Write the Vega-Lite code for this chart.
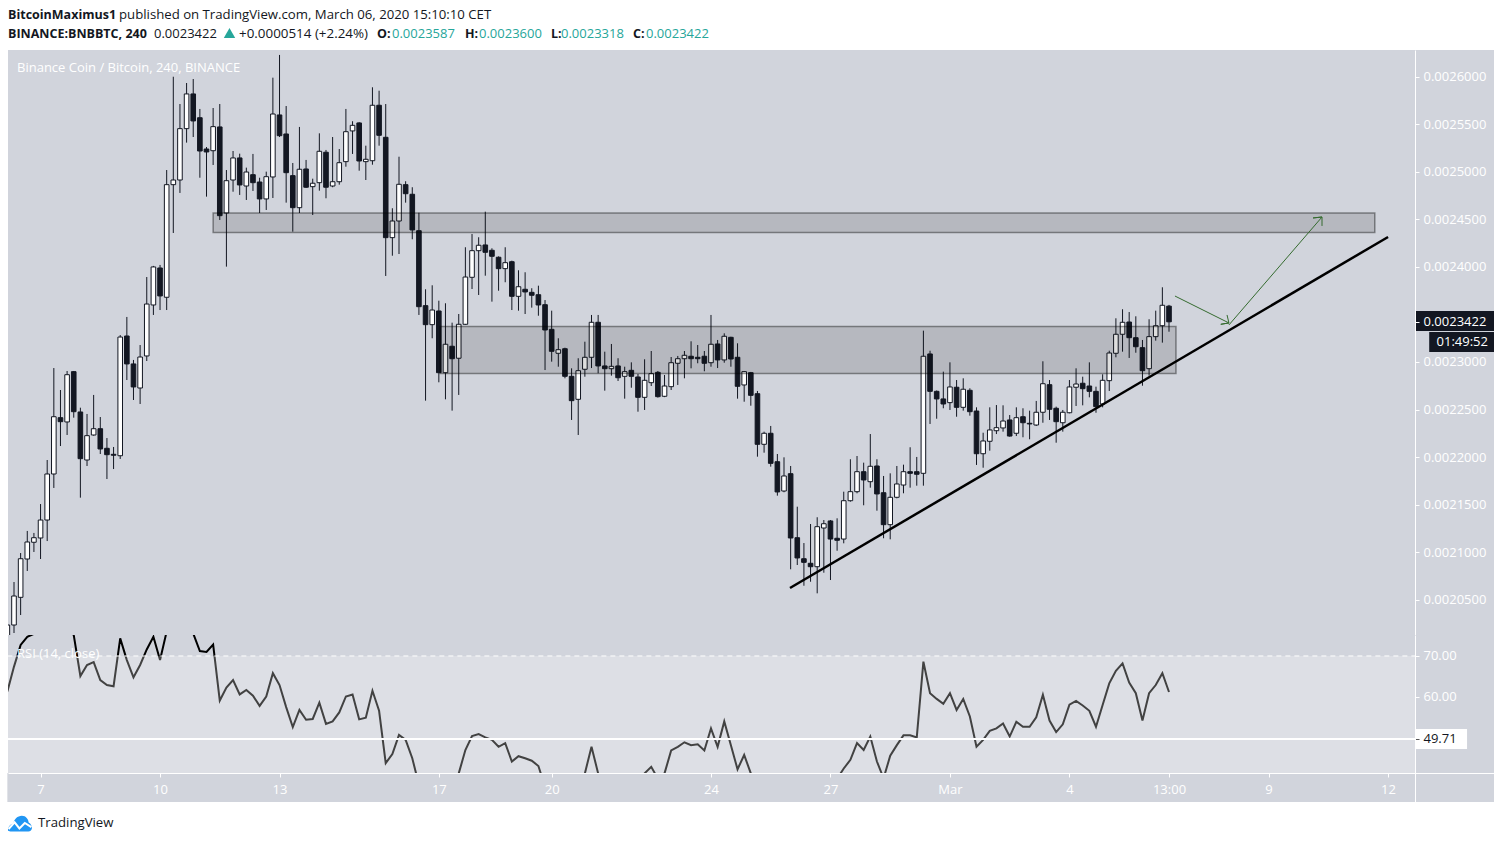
{
  "$schema": "https://vega.github.io/schema/vega-lite/v6.json",
  "background": "white",
  "padding": {"left": 4, "right": 8, "top": 0, "bottom": 0},
  "spacing": 0,
  "bounds": "flush",
  "config": {"view": {"stroke": null}, "font": "Open Sans", "axis": {"title": null, "labelFont": "Open Sans"}},
  "datasets": {
    "candles": [
      {"bar":-1,"open":0.0020076,"high":0.0020266,"low":0.0020024,"close":0.0020234,"rsi":61.3},
      {"bar":0,"open":0.0020234,"high":0.0020686,"low":0.0020150,"close":0.0020539,"rsi":67.4},
      {"bar":1,"open":0.0020525,"high":0.0020991,"low":0.0020339,"close":0.0020931,"rsi":72.7},
      {"bar":2,"open":0.0020928,"high":0.0021223,"low":0.0020802,"close":0.0021107,"rsi":74.7},
      {"bar":3,"open":0.0021104,"high":0.0021202,"low":0.0021002,"close":0.0021152,"rsi":75.4},
      {"bar":4,"open":0.0021149,"high":0.0021506,"low":0.0020928,"close":0.0021338,"rsi":77},
      {"bar":5,"open":0.0021338,"high":0.0021969,"low":0.0021117,"close":0.0021822,"rsi":79},
      {"bar":6,"open":0.0021822,"high":0.0022936,"low":0.0021675,"close":0.0022424,"rsi":81},
      {"bar":7,"open":0.0022414,"high":0.0022705,"low":0.0022116,"close":0.0022372,"rsi":79},
      {"bar":8,"open":0.0022369,"high":0.0022905,"low":0.0022232,"close":0.0022866,"rsi":77},
      {"bar":9,"open":0.0022898,"high":0.0022905,"low":0.0022414,"close":0.0022477,"rsi":75.1},
      {"bar":10,"open":0.0022474,"high":0.0022519,"low":0.0021573,"close":0.0021983,"rsi":65.1},
      {"bar":11,"open":0.0021969,"high":0.0022453,"low":0.0021906,"close":0.0022225,"rsi":67.8},
      {"bar":12,"open":0.0022232,"high":0.0022653,"low":0.0022225,"close":0.0022298,"rsi":68.5},
      {"bar":13,"open":0.0022298,"high":0.0022421,"low":0.0022032,"close":0.0022085,"rsi":64.1},
      {"bar":14,"open":0.0022092,"high":0.0022200,"low":0.0021769,"close":0.0022025,"rsi":62.9},
      {"bar":15,"open":0.0022029,"high":0.0022106,"low":0.0021874,"close":0.0022019,"rsi":62.6},
      {"bar":16,"open":0.0022014,"high":0.0023283,"low":0.0021980,"close":0.0023262,"rsi":74.3},
      {"bar":17,"open":0.0023273,"high":0.0023473,"low":0.0022810,"close":0.0022979,"rsi":69},
      {"bar":18,"open":0.0022979,"high":0.0023021,"low":0.0022600,"close":0.0022737,"rsi":64.8},
      {"bar":19,"open":0.0022726,"high":0.0023178,"low":0.0022558,"close":0.0023052,"rsi":67.8},
      {"bar":20,"open":0.0023063,"high":0.0023893,"low":0.0023010,"close":0.0023609,"rsi":71.6},
      {"bar":21,"open":0.0023599,"high":0.0024010,"low":0.0023494,"close":0.0023999,"rsi":74.7},
      {"bar":22,"open":0.0023988,"high":0.0024020,"low":0.0023546,"close":0.0023694,"rsi":69},
      {"bar":23,"open":0.0023680,"high":0.0025018,"low":0.0023546,"close":0.0024864,"rsi":76},
      {"bar":24,"open":0.0024864,"high":0.0025999,"low":0.0024356,"close":0.0024913,"rsi":77},
      {"bar":25,"open":0.0024913,"high":0.0025712,"low":0.0024777,"close":0.0025453,"rsi":79},
      {"bar":26,"open":0.0025453,"high":0.0025933,"low":0.0025306,"close":0.0025818,"rsi":78},
      {"bar":27,"open":0.0025818,"high":0.0025975,"low":0.0025365,"close":0.0025534,"rsi":75.5},
      {"bar":28,"open":0.0025568,"high":0.0025660,"low":0.0024937,"close":0.0025218,"rsi":71.2},
      {"bar":29,"open":0.0025239,"high":0.0025260,"low":0.0024738,"close":0.0025208,"rsi":71},
      {"bar":30,"open":0.0025221,"high":0.0025670,"low":0.0025071,"close":0.0025474,"rsi":72.8},
      {"bar":31,"open":0.0025471,"high":0.0025712,"low":0.0024493,"close":0.0024538,"rsi":59.1},
      {"bar":32,"open":0.0024566,"high":0.0025018,"low":0.0024002,"close":0.0024906,"rsi":62.3},
      {"bar":33,"open":0.0024913,"high":0.0025218,"low":0.0024790,"close":0.0025145,"rsi":64.1},
      {"bar":34,"open":0.0025145,"high":0.0025190,"low":0.0024756,"close":0.0024861,"rsi":60.6},
      {"bar":35,"open":0.0024850,"high":0.0025043,"low":0.0024703,"close":0.0024997,"rsi":61.7},
      {"bar":36,"open":0.0024969,"high":0.0025187,"low":0.0024798,"close":0.0024885,"rsi":60.3},
      {"bar":37,"open":0.0024892,"high":0.0024937,"low":0.0024566,"close":0.0024714,"rsi":57.8},
      {"bar":38,"open":0.0024714,"high":0.0025001,"low":0.0024598,"close":0.0024948,"rsi":60.1},
      {"bar":39,"open":0.0024945,"high":0.0025989,"low":0.0024724,"close":0.0025607,"rsi":65.8},
      {"bar":40,"open":0.0025597,"high":0.0026228,"low":0.0025365,"close":0.0025379,"rsi":62.9},
      {"bar":41,"open":0.0025397,"high":0.0025691,"low":0.0024675,"close":0.0024990,"rsi":57.5},
      {"bar":42,"open":0.0024959,"high":0.0025092,"low":0.0024370,"close":0.0024622,"rsi":52.6},
      {"bar":43,"open":0.0024622,"high":0.0025471,"low":0.0024566,"close":0.0025026,"rsi":56.8},
      {"bar":44,"open":0.0025029,"high":0.0025124,"low":0.0024830,"close":0.0024837,"rsi":54.4},
      {"bar":45,"open":0.0024843,"high":0.0024927,"low":0.0024545,"close":0.0024879,"rsi":54.6},
      {"bar":46,"open":0.0024885,"high":0.0025404,"low":0.0024801,"close":0.0025215,"rsi":58.6},
      {"bar":47,"open":0.0025205,"high":0.0025229,"low":0.0024721,"close":0.0024837,"rsi":53.4},
      {"bar":48,"open":0.0024850,"high":0.0025365,"low":0.0024837,"close":0.0024895,"rsi":54},
      {"bar":49,"open":0.0024895,"high":0.0025239,"low":0.0024864,"close":0.0025095,"rsi":56.2},
      {"bar":50,"open":0.0025106,"high":0.0025660,"low":0.0025053,"close":0.0025421,"rsi":60.1},
      {"bar":51,"open":0.0025429,"high":0.0025531,"low":0.0025187,"close":0.0025488,"rsi":60.6},
      {"bar":52,"open":0.0025513,"high":0.0025520,"low":0.0025011,"close":0.0025113,"rsi":54.5},
      {"bar":53,"open":0.0025106,"high":0.0025274,"low":0.0024913,"close":0.0025131,"rsi":54.9},
      {"bar":54,"open":0.0025116,"high":0.0025888,"low":0.0025074,"close":0.0025699,"rsi":61.5},
      {"bar":55,"open":0.0025699,"high":0.0025852,"low":0.0025274,"close":0.0025383,"rsi":56.6},
      {"bar":56,"open":0.0025362,"high":0.0025712,"low":0.0023904,"close":0.0024307,"rsi":43.8},
      {"bar":57,"open":0.0024307,"high":0.0024616,"low":0.0024117,"close":0.0024482,"rsi":46},
      {"bar":58,"open":0.0024482,"high":0.0025158,"low":0.0024135,"close":0.0024868,"rsi":50.7},
      {"bar":59,"open":0.0024864,"high":0.0024900,"low":0.0024675,"close":0.0024769,"rsi":49.5},
      {"bar":60,"open":0.0024763,"high":0.0024837,"low":0.0024290,"close":0.0024388,"rsi":45},
      {"bar":61,"open":0.0024380,"high":0.0024569,"low":0.0023494,"close":0.0023581,"rsi":38.5},
      {"bar":62,"open":0.0023592,"high":0.0023764,"low":0.0022593,"close":0.0023392,"rsi":37},
      {"bar":63,"open":0.0023392,"high":0.0023806,"low":0.0023249,"close":0.0023546,"rsi":36.5},
      {"bar":64,"open":0.0023536,"high":0.0023644,"low":0.0022786,"close":0.0022887,"rsi":35},
      {"bar":65,"open":0.0022887,"high":0.0023617,"low":0.0022607,"close":0.0023186,"rsi":37},
      {"bar":66,"open":0.0023165,"high":0.0023413,"low":0.0022488,"close":0.0023034,"rsi":37.5},
      {"bar":67,"open":0.0023039,"high":0.0023504,"low":0.0022653,"close":0.0023396,"rsi":41.3},
      {"bar":68,"open":0.0023396,"high":0.0024206,"low":0.0023390,"close":0.0023893,"rsi":47},
      {"bar":69,"open":0.0023890,"high":0.0024345,"low":0.0023767,"close":0.0024170,"rsi":50.4},
      {"bar":70,"open":0.0024170,"high":0.0024311,"low":0.0023704,"close":0.0024227,"rsi":50.9},
      {"bar":71,"open":0.0024230,"high":0.0024580,"low":0.0023907,"close":0.0024153,"rsi":50.1},
      {"bar":72,"open":0.0024174,"high":0.0024195,"low":0.0023634,"close":0.0024111,"rsi":49.5},
      {"bar":73,"open":0.0024101,"high":0.0024110,"low":0.0023749,"close":0.0023981,"rsi":47.8},
      {"bar":74,"open":0.0023981,"high":0.0024206,"low":0.0023838,"close":0.0024044,"rsi":48.7},
      {"bar":75,"open":0.0024054,"high":0.0024065,"low":0.0023546,"close":0.0023690,"rsi":44.2},
      {"bar":76,"open":0.0023690,"high":0.0023964,"low":0.0023539,"close":0.0023791,"rsi":45.5},
      {"bar":77,"open":0.0023764,"high":0.0023943,"low":0.0023504,"close":0.0023736,"rsi":45},
      {"bar":78,"open":0.0023732,"high":0.0023775,"low":0.0023571,"close":0.0023701,"rsi":44.4},
      {"bar":79,"open":0.0023707,"high":0.0023802,"low":0.0023486,"close":0.0023599,"rsi":43.1},
      {"bar":80,"open":0.0023602,"high":0.0023651,"low":0.0022915,"close":0.0023336,"rsi":38},
      {"bar":81,"open":0.0023343,"high":0.0023539,"low":0.0023003,"close":0.0023112,"rsi":37},
      {"bar":82,"open":0.0023091,"high":0.0023249,"low":0.0022950,"close":0.0023129,"rsi":38},
      {"bar":83,"open":0.0023139,"high":0.0023150,"low":0.0022828,"close":0.0022849,"rsi":37},
      {"bar":84,"open":0.0022849,"high":0.0022933,"low":0.0022390,"close":0.0022593,"rsi":35},
      {"bar":85,"open":0.0022607,"high":0.0023039,"low":0.0022232,"close":0.0022908,"rsi":36},
      {"bar":86,"open":0.0022923,"high":0.0023213,"low":0.0022845,"close":0.0023049,"rsi":41.3},
      {"bar":87,"open":0.0023049,"high":0.0023494,"low":0.0022936,"close":0.0023417,"rsi":47.8},
      {"bar":88,"open":0.0023417,"high":0.0023494,"low":0.0022881,"close":0.0022958,"rsi":41.3},
      {"bar":89,"open":0.0022958,"high":0.0023108,"low":0.0022698,"close":0.0022929,"rsi":39},
      {"bar":90,"open":0.0022929,"high":0.0023189,"low":0.0022856,"close":0.0022954,"rsi":41},
      {"bar":91,"open":0.0022958,"high":0.0023039,"low":0.0022800,"close":0.0022834,"rsi":39},
      {"bar":92,"open":0.0022849,"high":0.0022950,"low":0.0022614,"close":0.0022898,"rsi":39.5},
      {"bar":93,"open":0.0022912,"high":0.0022996,"low":0.0022729,"close":0.0022849,"rsi":38},
      {"bar":94,"open":0.0022842,"high":0.0022873,"low":0.0022477,"close":0.0022628,"rsi":38},
      {"bar":95,"open":0.0022628,"high":0.0023028,"low":0.0022495,"close":0.0022807,"rsi":41.3},
      {"bar":96,"open":0.0022782,"high":0.0023115,"low":0.0022747,"close":0.0022877,"rsi":42.9},
      {"bar":97,"open":0.0022891,"high":0.0022905,"low":0.0022625,"close":0.0022635,"rsi":40},
      {"bar":98,"open":0.0022639,"high":0.0022863,"low":0.0022630,"close":0.0022747,"rsi":41.3},
      {"bar":99,"open":0.0022740,"high":0.0023052,"low":0.0022705,"close":0.0022992,"rsi":46.9},
      {"bar":100,"open":0.0022986,"high":0.0023063,"low":0.0022758,"close":0.0023034,"rsi":47.8},
      {"bar":101,"open":0.0023034,"high":0.0023115,"low":0.0022828,"close":0.0023070,"rsi":48.9},
      {"bar":102,"open":0.0023060,"high":0.0023217,"low":0.0022933,"close":0.0023034,"rsi":48.2},
      {"bar":103,"open":0.0023049,"high":0.0023178,"low":0.0022986,"close":0.0023034,"rsi":48.4},
      {"bar":104,"open":0.0023060,"high":0.0023115,"low":0.0022902,"close":0.0022986,"rsi":46.9},
      {"bar":105,"open":0.0022992,"high":0.0023494,"low":0.0022950,"close":0.0023186,"rsi":52.3},
      {"bar":106,"open":0.0023189,"high":0.0023231,"low":0.0022936,"close":0.0023021,"rsi":47.8},
      {"bar":107,"open":0.0023021,"high":0.0023301,"low":0.0022992,"close":0.0023270,"rsi":54},
      {"bar":108,"open":0.0023259,"high":0.0023265,"low":0.0022950,"close":0.0023031,"rsi":48.2},
      {"bar":109,"open":0.0023049,"high":0.0023196,"low":0.0022614,"close":0.0022744,"rsi":42.3},
      {"bar":110,"open":0.0022758,"high":0.0022905,"low":0.0022582,"close":0.0022898,"rsi":45.8},
      {"bar":111,"open":0.0022887,"high":0.0022895,"low":0.0022540,"close":0.0022649,"rsi":41.3},
      {"bar":112,"open":0.0022666,"high":0.0022695,"low":0.0022004,"close":0.0022134,"rsi":35},
      {"bar":113,"open":0.0022134,"high":0.0022267,"low":0.0022046,"close":0.0022250,"rsi":36.5},
      {"bar":114,"open":0.0022250,"high":0.0022327,"low":0.0021899,"close":0.0021934,"rsi":35.5},
      {"bar":115,"open":0.0021951,"high":0.0022032,"low":0.0021594,"close":0.0021633,"rsi":34},
      {"bar":116,"open":0.0021643,"high":0.0021997,"low":0.0021630,"close":0.0021801,"rsi":35},
      {"bar":117,"open":0.0021825,"high":0.0021906,"low":0.0020820,"close":0.0021149,"rsi":30},
      {"bar":118,"open":0.0021152,"high":0.0021478,"low":0.0020865,"close":0.0020939,"rsi":29},
      {"bar":119,"open":0.0020931,"high":0.0021096,"low":0.0020647,"close":0.0020893,"rsi":29},
      {"bar":120,"open":0.0020883,"high":0.0021296,"low":0.0020689,"close":0.0020847,"rsi":29},
      {"bar":121,"open":0.0020847,"high":0.0021367,"low":0.0020567,"close":0.0021268,"rsi":33},
      {"bar":122,"open":0.0021254,"high":0.0021338,"low":0.0020784,"close":0.0021299,"rsi":33},
      {"bar":123,"open":0.0021328,"high":0.0021338,"low":0.0020707,"close":0.0021138,"rsi":32},
      {"bar":124,"open":0.0021146,"high":0.0021356,"low":0.0021015,"close":0.0021125,"rsi":40},
      {"bar":125,"open":0.0021138,"high":0.0021636,"low":0.0021093,"close":0.0021541,"rsi":42.5},
      {"bar":126,"open":0.0021541,"high":0.0021977,"low":0.0021531,"close":0.0021636,"rsi":44.6},
      {"bar":127,"open":0.0021636,"high":0.0022011,"low":0.0021619,"close":0.0021846,"rsi":48.7},
      {"bar":128,"open":0.0021846,"high":0.0021941,"low":0.0021493,"close":0.0021759,"rsi":47},
      {"bar":129,"open":0.0021741,"high":0.0022242,"low":0.0021678,"close":0.0021903,"rsi":50.3},
      {"bar":130,"open":0.0021906,"high":0.0021977,"low":0.0021436,"close":0.0021612,"rsi":44.2},
      {"bar":131,"open":0.0021625,"high":0.0021801,"low":0.0021146,"close":0.0021289,"rsi":40.1},
      {"bar":132,"open":0.0021289,"high":0.0021829,"low":0.0021135,"close":0.0021577,"rsi":45.6},
      {"bar":133,"open":0.0021577,"high":0.0021906,"low":0.0021566,"close":0.0021717,"rsi":48.2},
      {"bar":134,"open":0.0021706,"high":0.0021920,"low":0.0021619,"close":0.0021846,"rsi":50.6},
      {"bar":135,"open":0.0021846,"high":0.0022103,"low":0.0021678,"close":0.0021829,"rsi":50.6},
      {"bar":136,"open":0.0021846,"high":0.0022001,"low":0.0021699,"close":0.0021819,"rsi":50.1},
      {"bar":137,"open":0.0021829,"high":0.0023329,"low":0.0021699,"close":0.0023060,"rsi":68.6},
      {"bar":138,"open":0.0023084,"high":0.0023118,"low":0.0022348,"close":0.0022691,"rsi":60.9},
      {"bar":139,"open":0.0022691,"high":0.0022700,"low":0.0022403,"close":0.0022611,"rsi":59.5},
      {"bar":140,"open":0.0022611,"high":0.0022898,"low":0.0022513,"close":0.0022558,"rsi":58.3},
      {"bar":141,"open":0.0022572,"high":0.0022996,"low":0.0022495,"close":0.0022737,"rsi":60.9},
      {"bar":142,"open":0.0022734,"high":0.0022810,"low":0.0022424,"close":0.0022523,"rsi":56.8},
      {"bar":143,"open":0.0022523,"high":0.0022828,"low":0.0022488,"close":0.0022713,"rsi":59.5},
      {"bar":144,"open":0.0022702,"high":0.0022723,"low":0.0022435,"close":0.0022477,"rsi":55.2},
      {"bar":145,"open":0.0022484,"high":0.0022523,"low":0.0021917,"close":0.0022035,"rsi":47.8},
      {"bar":146,"open":0.0022035,"high":0.0022256,"low":0.0021888,"close":0.0022169,"rsi":49.5},
      {"bar":147,"open":0.0022166,"high":0.0022523,"low":0.0022067,"close":0.0022285,"rsi":51.7},
      {"bar":148,"open":0.0022277,"high":0.0022547,"low":0.0022242,"close":0.0022309,"rsi":52.3},
      {"bar":149,"open":0.0022306,"high":0.0022544,"low":0.0022267,"close":0.0022379,"rsi":53.5},
      {"bar":150,"open":0.0022390,"high":0.0022442,"low":0.0022214,"close":0.0022221,"rsi":50.3},
      {"bar":151,"open":0.0022250,"high":0.0022523,"low":0.0022221,"close":0.0022414,"rsi":53.9},
      {"bar":152,"open":0.0022424,"high":0.0022513,"low":0.0022208,"close":0.0022361,"rsi":52.7},
      {"bar":153,"open":0.0022355,"high":0.0022488,"low":0.0022187,"close":0.0022348,"rsi":52.7},
      {"bar":154,"open":0.0022337,"high":0.0022590,"low":0.0022327,"close":0.0022471,"rsi":55},
      {"bar":155,"open":0.0022471,"high":0.0023007,"low":0.0022361,"close":0.0022771,"rsi":60.5},
      {"bar":156,"open":0.0022761,"high":0.0022810,"low":0.0022390,"close":0.0022502,"rsi":54.2},
      {"bar":157,"open":0.0022513,"high":0.0022530,"low":0.0022151,"close":0.0022372,"rsi":51.4},
      {"bar":158,"open":0.0022361,"high":0.0022495,"low":0.0022267,"close":0.0022471,"rsi":53.3},
      {"bar":159,"open":0.0022466,"high":0.0022810,"low":0.0022460,"close":0.0022737,"rsi":58.1},
      {"bar":160,"open":0.0022734,"high":0.0022933,"low":0.0022537,"close":0.0022768,"rsi":59},
      {"bar":161,"open":0.0022776,"high":0.0022845,"low":0.0022544,"close":0.0022719,"rsi":57.9},
      {"bar":162,"open":0.0022747,"high":0.0022996,"low":0.0022628,"close":0.0022691,"rsi":56.6},
      {"bar":163,"open":0.0022691,"high":0.0022740,"low":0.0022466,"close":0.0022530,"rsi":52.7},
      {"bar":164,"open":0.0022558,"high":0.0022870,"low":0.0022523,"close":0.0022807,"rsi":58},
      {"bar":165,"open":0.0022803,"high":0.0023118,"low":0.0022695,"close":0.0023094,"rsi":63.3},
      {"bar":166,"open":0.0023091,"high":0.0023459,"low":0.0023049,"close":0.0023291,"rsi":66.4},
      {"bar":167,"open":0.0023291,"high":0.0023554,"low":0.0023108,"close":0.0023417,"rsi":68.2},
      {"bar":168,"open":0.0023420,"high":0.0023525,"low":0.0023042,"close":0.0023255,"rsi":63.5},
      {"bar":169,"open":0.0023255,"high":0.0023480,"low":0.0023097,"close":0.0023160,"rsi":60.9},
      {"bar":170,"open":0.0023150,"high":0.0023231,"low":0.0022750,"close":0.0022908,"rsi":54.2},
      {"bar":171,"open":0.0022929,"high":0.0023449,"low":0.0022856,"close":0.0023266,"rsi":60.9},
      {"bar":172,"open":0.0023266,"high":0.0023539,"low":0.0023224,"close":0.0023381,"rsi":62.9},
      {"bar":173,"open":0.0023381,"high":0.0023785,"low":0.0023203,"close":0.0023596,"rsi":65.8},
      {"bar":174,"open":0.0023587,"high":0.0023600,"low":0.0023318,"close":0.0023422,"rsi":61.2}
    ],
    "zones": [
      {"bar":30,"barEnd":205,"top":0.0024566,"bottom":0.0024361},
      {"bar":64.2,"barEnd":175.05,"top":0.0023373,"bottom":0.0022879}
    ],
    "trend": [
      {"bar":116.9,"price":0.0020623},
      {"bar":207,"price":0.0024314}
    ],
    "arrows": [
      {"arrow":"down","step":0,"bar":174.9,"price":0.0023693},
      {"arrow":"down","step":1,"bar":183.03,"price":0.0023410},
      {"arrow":"down","step":2,"bar":181.8,"price":0.0023396},
      {"arrow":"down","step":3,"bar":183.03,"price":0.0023410},
      {"arrow":"down","step":4,"bar":182.74,"price":0.0023494},
      {"arrow":"up","step":0,"bar":183.03,"price":0.0023389},
      {"arrow":"up","step":1,"bar":197.05,"price":0.0024524},
      {"arrow":"up","step":2,"bar":195.7,"price":0.0024514},
      {"arrow":"up","step":3,"bar":197.05,"price":0.0024524},
      {"arrow":"up","step":4,"bar":197.05,"price":0.0024430}
    ],
    "tags": [
      {"bar":211.06,"barEnd":222.96,"top":0.0023536,"bottom":0.0023325},
      {"bar":213.2,"barEnd":222.96,"top":0.0023315,"bottom":0.0023105}
    ],
    "countdown": [{"labelBar":214.3,"price":0.0023210,"label":"01:49:52"}],
    "rsiBand": [{"bar":-1,"barEnd":211.06,"top":70,"bottom":34.3}],
    "rsiStrip": [{"bar":-1,"barEnd":222.96,"top":41.4,"bottom":34.3}],
    "rsiLevels": [
      {"bar":-1,"barEnd":211.06,"level":70},
      {"bar":-1,"barEnd":211.06,"level":49.71}
    ],
    "rsiTag": [{"bar":211.06,"barEnd":218.9,"top":52.15,"bottom":47.27}]
  },
  "vconcat": [
    {
      "width": 1486,
      "height": 50,
      "data": {"values": [{}]},
      "layer": [
        {"mark": {"type": "text", "x": 0, "y": 15, "align": "left", "fontSize": 12.5, "fontWeight": "bold", "color": "#131722", "text": "BitcoinMaximus1"}},
        {"mark": {"type": "text", "x": 111, "y": 15, "align": "left", "fontSize": 13.2, "color": "#131722", "text": "published on TradingView.com, March 06, 2020 15:10:10 CET"}},
        {"mark": {"type": "text", "x": 0, "y": 34, "align": "left", "fontSize": 12.5, "fontWeight": "bold", "color": "#131722", "text": "BINANCE:BNBBTC, 240"}},
        {"mark": {"type": "text", "x": 146, "y": 34, "align": "left", "fontSize": 13, "color": "#131722", "text": "0.0023422"}},
        {"mark": {"type": "point", "x": 221.5, "y": 33, "shape": "triangle-up", "size": 130, "filled": true, "opacity": 1, "color": "#26a69a"}},
        {"mark": {"type": "text", "x": 231, "y": 34, "align": "left", "fontSize": 13.4, "color": "#131722", "text": "+0.0000514 (+2.24%)"}},
        {"mark": {"type": "text", "x": 369, "y": 34, "align": "left", "fontSize": 12.5, "fontWeight": "bold", "color": "#131722", "text": "O:"}},
        {"mark": {"type": "text", "x": 384, "y": 34, "align": "left", "fontSize": 13, "color": "#26a69a", "text": "0.0023587"}},
        {"mark": {"type": "text", "x": 457, "y": 34, "align": "left", "fontSize": 12.5, "fontWeight": "bold", "color": "#131722", "text": "H:"}},
        {"mark": {"type": "text", "x": 471, "y": 34, "align": "left", "fontSize": 13, "color": "#26a69a", "text": "0.0023600"}},
        {"mark": {"type": "text", "x": 543, "y": 34, "align": "left", "fontSize": 12.5, "fontWeight": "bold", "color": "#131722", "text": "L:"}},
        {"mark": {"type": "text", "x": 553, "y": 34, "align": "left", "fontSize": 13, "color": "#26a69a", "text": "0.0023318"}},
        {"mark": {"type": "text", "x": 625, "y": 34, "align": "left", "fontSize": 12.5, "fontWeight": "bold", "color": "#131722", "text": "C:"}},
        {"mark": {"type": "text", "x": 638, "y": 34, "align": "left", "fontSize": 13, "color": "#26a69a", "text": "0.0023422"}}
      ]
    },
    {
      "width": 1486,
      "height": 585,
      "view": {"fill": "#d1d4dc", "stroke": null},
      "layer": [
        {
          "data": {"values": [{}]},
          "mark": {"type": "text", "x": 9, "y": 18, "align": "left", "fontSize": 13, "color": "#ffffff", "text": "Binance Coin / Bitcoin, 240, BINANCE"}
        },
        {
          "data": {"name": "candles"},
          "mark": {"type": "rule", "color": "#131722", "strokeWidth": 1, "clip": true},
          "encoding": {
            "x": {
              "field": "bar",
              "type": "quantitative",
              "title": null,
              "scale": {"domain": [-0.904, 222.96], "nice": false, "zero": false, "padding": 0},
              "axis": {"orient": "bottom", "labels": false, "ticks": false, "grid": false, "domainColor": "#ffffff", "domainWidth": 1, "zindex": 1}
            },
            "y": {
              "field": "low",
              "type": "quantitative",
              "title": null,
              "scale": {"domain": [0.0020129, 0.002628], "nice": false, "zero": false},
              "axis": {
                "orient": "right",
                "offset": -79,
                "values": [0.0026, 0.00255, 0.0025, 0.00245, 0.0024, 0.0023422, 0.0023, 0.00225, 0.0022, 0.00215, 0.0021, 0.00205],
                "format": ".7f",
                "grid": false,
                "domainColor": "#ffffff",
                "tickColor": "#ffffff",
                "tickSize": 4,
                "labelColor": "#ffffff",
                "labelFontSize": 13,
                "labelPadding": 4,
                "labelOverlap": false,
                "zindex": 1
              }
            },
            "y2": {"field": "high"}
          }
        },
        {
          "data": {"name": "candles"},
          "mark": {"type": "bar", "size": 4.6, "stroke": "#131722", "strokeWidth": 1, "clip": true},
          "encoding": {
            "x": {"field": "bar", "type": "quantitative", "title": null},
            "y": {"field": "open", "type": "quantitative", "title": null},
            "y2": {"field": "close"},
            "fill": {"condition": {"test": "datum.close >= datum.open", "value": "#ffffff"}, "value": "#131722"}
          }
        },
        {
          "data": {"name": "zones"},
          "mark": {"type": "rect", "fill": "#000000", "fillOpacity": 0.13, "stroke": "#000000", "strokeOpacity": 0.4, "strokeWidth": 1.5},
          "encoding": {
            "x": {"field": "bar", "type": "quantitative", "title": null},
            "x2": {"field": "barEnd"},
            "y": {"field": "top", "type": "quantitative", "title": null},
            "y2": {"field": "bottom"}
          }
        },
        {
          "data": {"name": "trend"},
          "mark": {"type": "line", "color": "#000000", "strokeWidth": 2.5},
          "encoding": {
            "x": {"field": "bar", "type": "quantitative", "title": null},
            "y": {"field": "price", "type": "quantitative", "title": null}
          }
        },
        {
          "data": {"name": "arrows"},
          "mark": {"type": "line", "color": "#356b2f", "strokeWidth": 1},
          "encoding": {
            "x": {"field": "bar", "type": "quantitative", "title": null},
            "y": {"field": "price", "type": "quantitative", "title": null},
            "detail": {"field": "arrow"},
            "order": {"field": "step"}
          }
        },
        {
          "data": {"name": "tags"},
          "mark": {"type": "rect", "fill": "#131722"},
          "encoding": {
            "x": {"field": "bar", "type": "quantitative", "title": null},
            "x2": {"field": "barEnd"},
            "y": {"field": "top", "type": "quantitative", "title": null},
            "y2": {"field": "bottom"}
          }
        },
        {
          "data": {"name": "countdown"},
          "mark": {"type": "text", "align": "left", "fontSize": 13, "color": "#ffffff"},
          "encoding": {
            "x": {"field": "labelBar", "type": "quantitative", "title": null},
            "y": {"field": "price", "type": "quantitative", "title": null},
            "text": {"field": "label"}
          }
        }
      ]
    },
    {
      "width": 1486,
      "height": 167,
      "view": {"fill": "#d1d4dc", "stroke": null},
      "layer": [
        {
          "data": {"name": "candles"},
          "mark": {"type": "line", "color": "#000000", "strokeWidth": 2, "clip": true},
          "encoding": {
            "x": {
              "field": "bar",
              "type": "quantitative",
              "title": null,
              "scale": {"domain": [-0.904, 222.96], "nice": false, "zero": false},
              "axis": {
                "orient": "bottom",
                "offset": -29,
                "values": [4, 22, 40, 64, 81, 105, 123, 141, 159, 174, 189, 207],
                "labelExpr": "['7','10','13','17','20','24','27','Mar','4','13:00','9','12'][indexof([4,22,40,64,81,105,123,141,159,174,189,207],datum.value)]",
                "grid": false,
                "domainColor": "#ffffff",
                "tickColor": "#ffffff",
                "tickSize": 4,
                "labelColor": "#ffffff",
                "labelFontSize": 13,
                "labelPadding": 6,
                "labelOverlap": false,
                "zindex": 1
              }
            },
            "y": {
              "field": "rsi",
              "type": "quantitative",
              "title": null,
              "scale": {"domain": [34.3, 75.13], "nice": false, "zero": false},
              "axis": {
                "orient": "right",
                "offset": -79,
                "values": [70, 60, 49.71],
                "format": ".2f",
                "grid": false,
                "domainColor": "#ffffff",
                "tickColor": {"condition": {"test": "datum.value == 49.71", "value": "#555555"}, "value": "#ffffff"},
                "tickSize": 4,
                "labelColor": {"condition": {"test": "datum.value == 49.71", "value": "#131722"}, "value": "#ffffff"},
                "labelFontSize": 13,
                "labelPadding": 4,
                "labelOverlap": false,
                "zindex": 1
              }
            }
          }
        },
        {
          "data": {"name": "rsiBand"},
          "mark": {"type": "rect", "fill": "#ffffff", "fillOpacity": 0.26},
          "encoding": {
            "x": {"field": "bar", "type": "quantitative", "title": null},
            "x2": {"field": "barEnd"},
            "y": {"field": "top", "type": "quantitative", "title": null},
            "y2": {"field": "bottom"}
          }
        },
        {
          "data": {"name": "rsiStrip"},
          "mark": {"type": "rect", "fill": "#d1d4dc"},
          "encoding": {
            "x": {"field": "bar", "type": "quantitative", "title": null},
            "x2": {"field": "barEnd"},
            "y": {"field": "top", "type": "quantitative", "title": null},
            "y2": {"field": "bottom"}
          }
        },
        {
          "data": {"name": "rsiLevels"},
          "transform": [{"filter": "datum.level == 70"}],
          "mark": {"type": "rule", "color": "#ffffff", "strokeWidth": 1, "strokeDash": [5, 4]},
          "encoding": {
            "x": {"field": "bar", "type": "quantitative", "title": null},
            "x2": {"field": "barEnd"},
            "y": {"field": "level", "type": "quantitative", "title": null}
          }
        },
        {
          "data": {"name": "rsiLevels"},
          "transform": [{"filter": "datum.level != 70"}],
          "mark": {"type": "rule", "color": "#ffffff", "strokeWidth": 2},
          "encoding": {
            "x": {"field": "bar", "type": "quantitative", "title": null},
            "x2": {"field": "barEnd"},
            "y": {"field": "level", "type": "quantitative", "title": null}
          }
        },
        {
          "data": {"name": "rsiTag"},
          "mark": {"type": "rect", "fill": "#ffffff"},
          "encoding": {
            "x": {"field": "bar", "type": "quantitative", "title": null},
            "x2": {"field": "barEnd"},
            "y": {"field": "top", "type": "quantitative", "title": null},
            "y2": {"field": "bottom"}
          }
        },
        {
          "data": {"values": [{}]},
          "mark": {"type": "text", "x": 9, "y": 19, "align": "left", "fontSize": 13, "color": "#ffffff", "text": "RSI (14, close)"}
        }
      ]
    },
    {
      "width": 1486,
      "height": 42,
      "data": {"values": [{}]},
      "layer": [
        {"mark": {"type": "point", "x": 12, "y": 21, "filled": true, "opacity": 1, "size": 576, "color": "#2196f3", "shape": "M-1 0.65 C-1 0.3 -0.8 0.1 -0.55 0.05 C-0.5 -0.3 -0.2 -0.6 0.15 -0.6 C0.5 -0.6 0.7 -0.3 0.72 -0.05 C0.9 0.05 1 0.25 1 0.4 C1 0.6 0.85 0.7 0.7 0.7 L-0.8 0.7 Z"}},
        {"mark": {"type": "point", "x": 12, "y": 21, "filled": false, "opacity": 1, "size": 576, "strokeWidth": 2, "color": "#ffffff", "shape": "M-0.95 0.5 L-0.45 -0.05 L-0.05 0.45 L0.4 0 L0.95 0.35"}},
        {"mark": {"type": "text", "x": 30, "y": 21, "align": "left", "fontSize": 13.2, "color": "#131722", "text": "TradingView"}}
      ]
    }
  ]
}
